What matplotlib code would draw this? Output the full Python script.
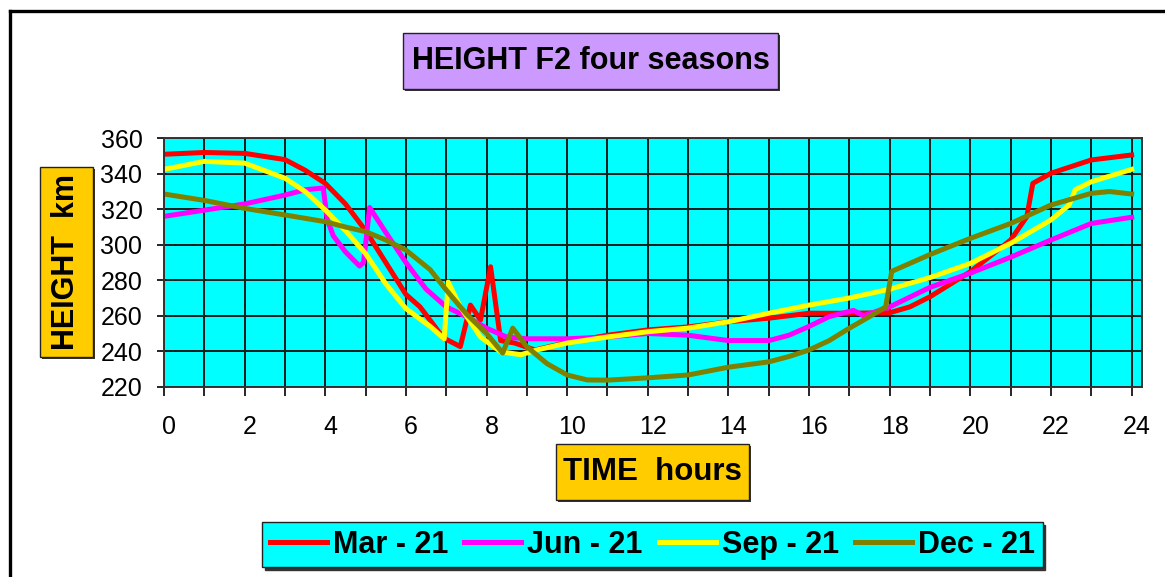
import matplotlib
matplotlib.use("Agg")
import matplotlib.pyplot as plt
from matplotlib.patches import Rectangle
from matplotlib.lines import Line2D
from matplotlib.transforms import ScaledTranslation

plt.rcParams['font.family'] = ['Liberation Sans', 'DejaVu Sans']

# --- data (hour of day, F2 height in km) ---
hours_mar = [0, 1, 2, 3, 3.5, 4, 4.5, 5, 5.5, 6, 6.35, 6.93, 7.35, 7.6, 7.85, 8.1, 8.35,
             8.7, 9.2, 10, 11, 12, 13, 14, 15, 16, 17, 18, 18.5, 19, 20, 21, 21.4, 21.55,
             22, 23, 24]
height_mar = [351, 352, 351.5, 348, 342, 334.6, 323, 308, 290, 272, 265, 247.5, 242.6, 266,
              257.6, 287.6, 246, 244.6, 240.7, 245, 249, 252, 253.7, 256.6, 258.6, 261.4,
              261.4, 261.7, 265, 270.7, 284.8, 302.7, 315.8, 334.6, 340.3, 347.8, 350.6]

hours_jun = [0, 1, 2, 3, 3.5, 3.95, 4.05, 4.2, 4.5, 4.85, 4.95, 5.1, 5.5, 6, 6.5, 7, 7.5, 8,
             8.5, 9, 10, 11, 12, 13, 14, 15, 15.5, 16, 16.5, 17.1, 17.35, 18, 19, 20, 21,
             22, 23, 24]
height_jun = [316, 319.5, 323, 328, 331, 332, 314, 305, 296, 288, 290, 321, 307, 290, 275,
              265, 259.5, 253, 248, 247, 247, 248, 250, 249, 246, 246, 249, 254, 259.5, 263,
              260, 265, 276, 284, 293, 302.7, 312, 315.5]

hours_sep = [0, 1, 2, 3, 3.5, 4, 4.5, 5, 5.5, 6, 6.6, 6.95, 7.05, 7.35, 7.85, 8.35, 8.85,
             9.25, 10, 11, 12, 13, 14, 15, 16, 17, 18, 19, 20, 21, 22, 22.45, 22.6, 23, 24]
height_sep = [342.5, 347, 346, 337.5, 330, 319.6, 308, 295, 278, 264, 254, 247, 279, 265,
              248, 239.7, 238, 240.7, 244.6, 248, 251, 253, 256.6, 261.4, 266, 270, 275,
              281.5, 289.5, 300.8, 314, 322.4, 331, 335.5, 342.5]

hours_dec = [0, 1, 2, 3, 4, 4.5, 5, 5.5, 6, 6.6, 7, 7.5, 8, 8.4, 8.65, 9, 9.5, 10, 10.5, 11,
             12, 13, 14, 15, 15.5, 16, 16.5, 17, 17.5, 17.9, 18.05, 19, 20, 21, 22, 23,
             23.45, 24]
height_dec = [328.6, 325, 320.5, 316.8, 313, 310, 307.4, 302.7, 297, 286, 274.5, 261, 250,
              239, 253, 242.5, 233, 226.6, 223.8, 223.7, 225, 226.6, 231, 234, 237, 240.7,
              246, 253, 259.5, 265, 285, 294.5, 303.6, 312, 322.4, 329, 330, 328.6]

series = [
    ("Mar - 21", hours_mar, height_mar, "#FF0000"),
    ("Jun - 21", hours_jun, height_jun, "#FF00FF"),
    ("Sep - 21", hours_sep, height_sep, "#FFFF00"),
    ("Dec - 21", hours_dec, height_dec, "#808000"),
]

W, H = 1165, 577
fig = plt.figure(figsize=(W / 100, H / 100), dpi=100)
fig.patch.set_facecolor("white")


def fx(px):
    return px / W


def fy(py):
    return 1 - py / H


def box(x0, y0, x1, y1, color):
    # excel style box with a small dark shadow
    shadow = Rectangle((fx(x0 + 2), fy(y1 + 2)), fx(x1) - fx(x0), fy(y0) - fy(y1),
                       transform=fig.transFigure, facecolor="#333333", edgecolor="none")
    rect = Rectangle((fx(x0), fy(y1)), fx(x1) - fx(x0), fy(y0) - fy(y1),
                     transform=fig.transFigure, facecolor=color, edgecolor="#222222", lw=1.0)
    fig.add_artist(shadow)
    fig.add_artist(rect)


# outer chart border
fig.add_artist(Line2D([fx(10), fx(10)], [0, fy(11)], transform=fig.transFigure,
                      color="black", lw=2.4))
fig.add_artist(Line2D([fx(10), 1], [fy(11), fy(11)], transform=fig.transFigure,
                      color="black", lw=2.4))

ax = fig.add_axes([fx(164), fy(386.7), fx(1141.7) - fx(164), fy(138.3) - fy(386.7)])
ax.set_facecolor("#00FFFF")

for name, hrs, hts, col in series:
    ax.plot(hrs, hts, color=col, lw=3.6, label=name)

ax.set_xlim(0, 24.25)
ax.set_ylim(220, 360)
ax.set_xticks(range(25))
ax.set_xticklabels([str(h) if h % 2 == 0 else "" for h in range(25)])
ax.set_yticks(range(220, 361, 20))
ax.set_axisbelow(True)
ax.grid(True, color="#1a1a1a", lw=1.4)
for s in ax.spines.values():
    s.set_color("#333333")
    s.set_linewidth(1.4)
ax.tick_params(axis="x", length=6.5, width=1.2, pad=14, labelsize=18)
ax.tick_params(axis="y", length=5, width=1.2, pad=10.5, labelsize=18)
shift = ScaledTranslation(5 / 100, 0, fig.dpi_scale_trans)
for lab in ax.get_xticklabels():
    lab.set_transform(lab.get_transform() + shift)

# title and axis label boxes
box(402.7, 33.3, 778.3, 89, "#CC99FF")
fig.text(fx(590.5), fy(61.2), "HEIGHT F2 four seasons", ha="center", va="center",
         fontsize=22, fontweight="bold")
box(40, 166.7, 93, 357.3, "#FFCC00")
fig.text(fx(66.5), fy(262), "HEIGHT  km", ha="center", va="center", rotation=90,
         fontsize=22, fontweight="bold")
box(556, 444, 749.3, 500, "#FFCC00")
fig.text(fx(652.7), fy(472), "TIME  hours", ha="center", va="center",
         fontsize=22.5, fontweight="bold")

leg = fig.legend(loc="center", bbox_to_anchor=(fx(652.3), fy(544.7)), ncol=4,
                 prop={"size": 22, "weight": "bold"}, handlelength=1.87,
                 handletextpad=0.19, columnspacing=0.53, borderpad=0.25,
                 borderaxespad=0, fancybox=False, framealpha=1,
                 facecolor="#00FFFF", edgecolor="#222222",
                 shadow={"color": "#333333", "alpha": 1})
leg.get_frame().set_linewidth(1.0)

fig.savefig("out.png", dpi=100)
